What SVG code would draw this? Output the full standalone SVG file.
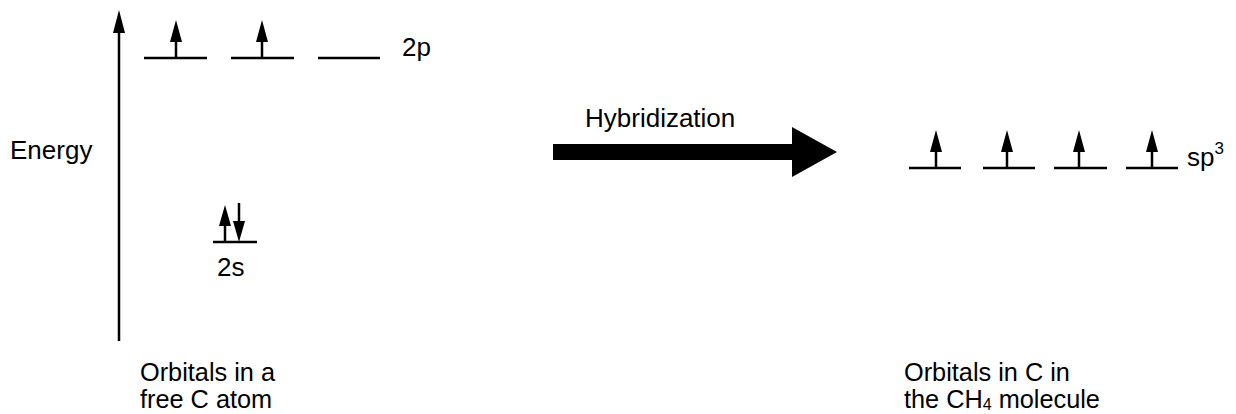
<svg xmlns="http://www.w3.org/2000/svg" width="1236" height="414" viewBox="0 0 1236 414">
<defs>
<style>
.t{font-family:"Liberation Sans",Arial,sans-serif;font-size:26px;fill:#000}
.c{font-size:25.3px}
.lvl{stroke:#000;stroke-width:2.5;fill:none}
.ln{stroke:#000;stroke-width:2.5;fill:none}
.hd{fill:#000;stroke:none}
</style>
<g id="up"><line class="ln" x1="0" y1="0" x2="0" y2="-18"/><polygon class="hd" points="0,-38 -6,-16 6,-16"/></g>
</defs>
<rect width="1236" height="414" fill="#fff"/>
<g id="connectors">
<line class="ln" x1="119" y1="341" x2="119" y2="28"/>
<polygon class="hd" points="119,10 113,33 125,33"/>
<polygon class="hd" points="553,144 792,144 792,127 837,152 792,177 792,160 553,160"/>
</g>
<g id="energy-label"><text class="t" x="10" y="159">Energy</text></g>
<g id="level-2p">
<line class="lvl" x1="144" y1="58" x2="207" y2="58"/>
<line class="lvl" x1="231" y1="58" x2="294" y2="58"/>
<line class="lvl" x1="318" y1="58" x2="380" y2="58"/>
<use href="#up" x="176" y="58"/>
<use href="#up" x="262" y="58"/>
<text class="t" x="402" y="56">2p</text>
</g>
<g id="level-2s">
<line class="lvl" x1="213" y1="242" x2="257" y2="242"/>
<line class="ln" x1="225" y1="242" x2="225" y2="222"/>
<polygon class="hd" points="225,205 219,226 231,226"/>
<line class="ln" x1="239" y1="203" x2="239" y2="224"/>
<polygon class="hd" points="239,242 233,221 245,221"/>
<text class="t" x="217" y="276">2s</text>
</g>
<g id="hybridization-label"><text class="t" x="585" y="127">Hybridization</text></g>
<g id="level-sp3">
<line class="lvl" x1="909" y1="168" x2="961" y2="168"/>
<line class="lvl" x1="983" y1="168" x2="1035" y2="168"/>
<line class="lvl" x1="1054" y1="168" x2="1107" y2="168"/>
<line class="lvl" x1="1126" y1="168" x2="1178" y2="168"/>
<use href="#up" x="936" y="168"/>
<use href="#up" x="1007" y="168"/>
<use href="#up" x="1079" y="168"/>
<use href="#up" x="1152" y="168"/>
<text class="t" x="1187" y="166">sp<tspan dy="-12" style="font-size:17px">3</tspan></text>
</g>
<g id="caption-left"><text class="t c" x="140" y="381">Orbitals in a</text><text class="t c" x="140" y="408">free C atom</text></g>
<g id="caption-right"><text class="t c" x="904" y="381">Orbitals in C in</text><text class="t c" x="904" y="408">the CH<tspan dy="2" style="font-size:16px">4</tspan><tspan dy="-2"> molecule</tspan></text></g>
</svg>
